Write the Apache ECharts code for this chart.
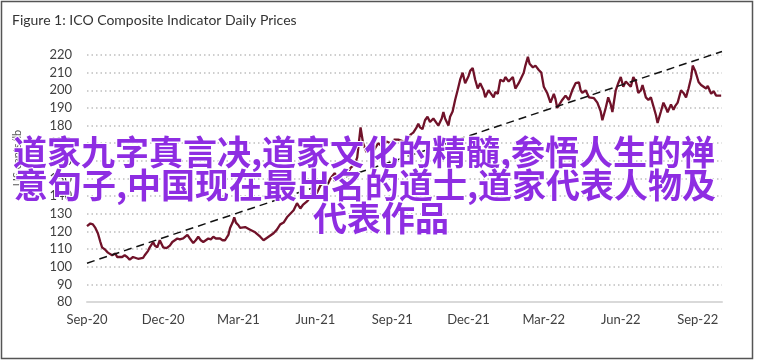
<!DOCTYPE html>
<html>
<head>
<meta charset="utf-8">
<script src="https://cdn.jsdelivr.net/npm/echarts@6/dist/echarts.min.js"></script>
<style>html,body{margin:0;padding:0;background:#fff;}#c{width:758px;height:363px;}</style>
</head>
<body>
<div id="c"></div>
<script>
// ---- data ----
var startDate = '2020-09-01';
var titleText = 'Figure 1: ICO Composite Indicator Daily Prices';
var yAxisName = 'US cents/lb';
var tickDays = [0, 91, 181, 273, 365, 456, 546, 638, 730];
var tickLabels = ['Sep-20', 'Dec-20', 'Mar-21', 'Jun-21', 'Sep-21', 'Dec-21', 'Mar-22', 'Jun-22', 'Sep-22'];
var dayOffsets = [0,4,7,10,13,16,18,22,25,30,34,36,42,45,48,51,55,57,61,63,67,69,73,75,79,81,84,87,91,95,97,99,102,105,108,111,115,117,120,123,127,130,133,136,139,142,145,148,151,154,159,162,165,169,171,174,176,178,181,183,185,189,191,195,197,201,203,207,211,213,217,219,223,227,231,235,237,239,243,247,249,251,255,258,263,267,270,274,279,282,287,291,296,300,305,310,315,320,323,327,330,334,339,343,348,353,358,363,367,372,378,383,387,390,394,396,398,401,404,407,410,414,416,420,424,426,428,432,434,437,440,443,446,449,452,456,458,461,464,467,470,474,476,480,483,486,488,491,494,498,500,504,506,509,512,516,519,522,524,527,529,533,536,540,543,546,550,554,558,560,562,566,568,572,576,580,584,588,590,592,596,600,602,606,610,614,616,620,623,626,628,632,635,638,641,644,646,650,653,656,658,659,662,664,668,671,674,676,680,682,686,689,692,694,698,701,703,706,710,713,716,718,719,722,724,727,728,731,734,736,737,740,742,746,749,752,754,758];
var prices = [123,124.5,124,122,119,114,111,109.5,108,106.5,107.5,105.5,105.5,106.5,105.5,104,105.5,106.5,104.5,104,105,106.5,109,111,114,112,111,115,111,110.5,110.5,112,114,115,116,115.5,116,117,118,116,113.4,115,117,115,114,115,116,115.5,117,116,116,115,115,118,122,125,128,125,123.5,122,121,122.5,122,121,121,119.5,119,117,115,114,117,118,119,121,124,125,124,128,130,132,131,136,133,135,137,139.5,143,141,146,149,146,150,153,150,154,152,156,158,162,179,170,165,168,166,170,168,171,170,172,172,171,172,175,176,179,181,179,178,183,185,182,184,183,180,184,187.7,184,180,185,188,194.5,200,206,210,204,208,211,212.6,206,201,204,200,196,200,198,196,199,198,206,205,207.5,205,206,207.5,201,204,207,210,214,219,215,213,214,211.5,210,202,198.5,193,198,195,190,193,194.5,197,194.5,200,204,204.5,200,198.5,200,196,197,195.5,193,188,183,190,196,192,187.7,200,204,207.5,202,205,204,202,207.5,205,204,198.5,200,203,196,194.5,196,195.5,186,181.5,188,193,190,187.5,192,189,191,193,200,198.5,196,195.5,201,207,214,211,212,204.7,203,203.5,202,201,202.5,198,199.5,197,196,197,193];
var trendDays = [0, 759];
var trendValues = [102, 222];
var overlayLines = ['道家九字真言决,道家文化的精髓,参悟人生的禅', '意句子,中国现在最出名的道士,道家代表人物及', '代表作品'];

var priceData = dayOffsets.map(function (d, i) { return [d, prices[i]]; });
var trendData = trendDays.map(function (d, i) { return [d, trendValues[i]]; });

var chart = echarts.init(document.getElementById('c'), null, { renderer: 'canvas' });
var labelFont = 'Lato, "Open Sans", sans-serif';
var cjkFont = '"Noto Sans CJK SC", sans-serif';

var option = {
  animation: false,
  backgroundColor: '#fff',
  title: {
    text: titleText, left: 7, top: 8,
    textStyle: { fontFamily: labelFont, fontSize: 14, fontWeight: 'normal', color: '#333' }
  },
  grid: { left: 87, right: 36, top: 55, bottom: 61 },
  xAxis: {
    type: 'value', min: 0, max: 759,
    axisLine: { show: true, lineStyle: { color: '#d9d9d9', width: 2 } },
    axisTick: { show: false },
    splitLine: { show: false },
    axisLabel: {
      customValues: tickDays,
      formatter: function (v) { var i = tickDays.indexOf(v); return i >= 0 ? tickLabels[i] : ''; },
      fontFamily: labelFont, fontSize: 13, color: '#404040', margin: 11
    }
  },
  yAxis: {
    type: 'value', min: 80, max: 220, interval: 10,
    axisLine: { show: false }, axisTick: { show: false },
    splitLine: { show: true, lineStyle: { color: '#bfbfbf', width: 1.5, type: [1.5, 3] } },
    axisLabel: { fontFamily: labelFont, fontSize: 13, color: '#404040', margin: 15 }
  },
  series: [
    {
      type: 'line', data: priceData, showSymbol: false, symbol: 'none',
      lineStyle: { color: '#701229', width: 2.3 }, z: 3
    },
    {
      type: 'line', data: trendData, showSymbol: false, symbol: 'none', clip: false,
      lineStyle: { color: '#111', width: 1.5, type: [8, 5] }, z: 4
    }
  ],
  graphic: [
    { type: 'rect', shape: { x: 1.5, y: 1.5, width: 751, height: 357 }, style: { fill: null, stroke: '#555', lineWidth: 1.5 }, silent: true },
    { type: 'text', x: 17, y: 158, rotation: Math.PI / 2, style: { text: yAxisName, font: '11px ' + labelFont, fill: '#595959', textAlign: 'center', textVerticalAlign: 'middle' } },
    { type: 'text', x: 364, y: 152, z: 100, style: { text: overlayLines[0], font: 'bold 34px ' + cjkFont, fill: '#8e2de2', stroke: '#fff', lineWidth: 2, textAlign: 'center', textVerticalAlign: 'middle' } },
    { type: 'text', x: 365, y: 185, z: 100, style: { text: overlayLines[1], font: 'bold 34px ' + cjkFont, fill: '#8e2de2', stroke: '#fff', lineWidth: 2, textAlign: 'center', textVerticalAlign: 'middle' } },
    { type: 'text', x: 381, y: 218, z: 100, style: { text: overlayLines[2], font: 'bold 34px ' + cjkFont, fill: '#8e2de2', stroke: '#fff', lineWidth: 2, textAlign: 'center', textVerticalAlign: 'middle' } }
  ]
};
chart.setOption(option);
</script>
</body>
</html>
